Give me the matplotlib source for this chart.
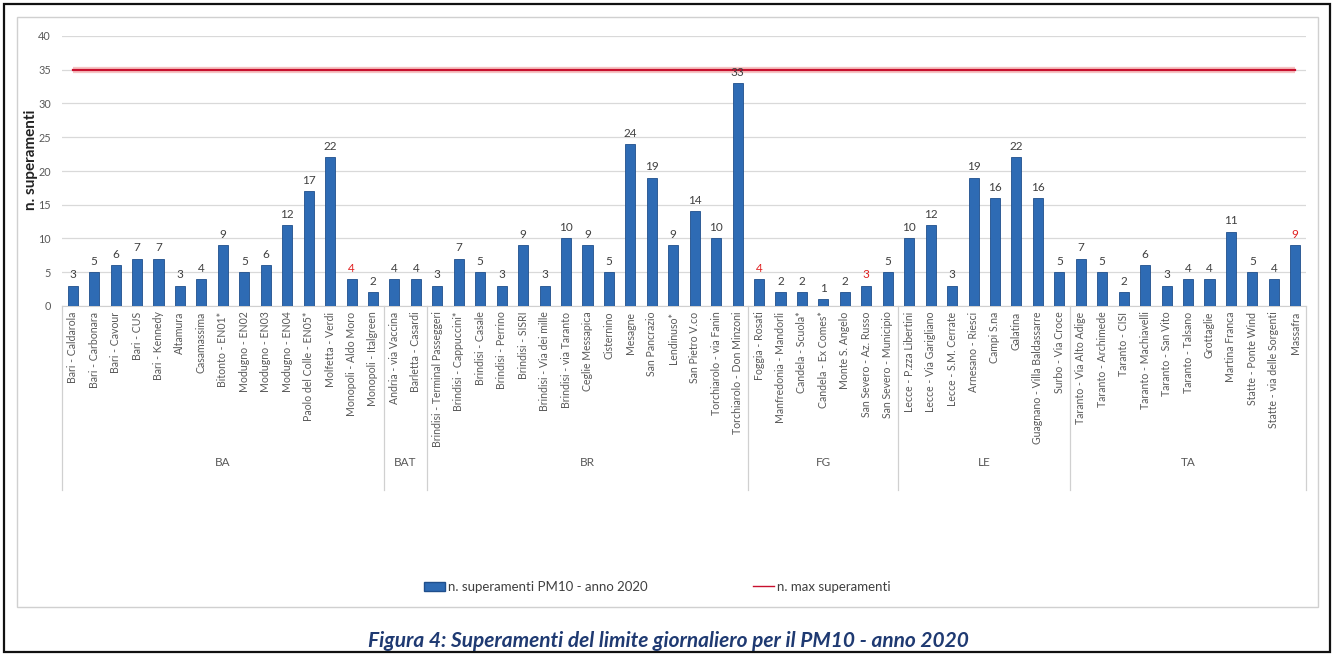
import matplotlib
matplotlib.use("Agg")
import matplotlib.pyplot as plt
from matplotlib.patches import Rectangle, Patch
from matplotlib.lines import Line2D
import matplotlib.transforms as mtrans

groups = ["BA", "BAT", "BR", "FG", "LE", "TA"]
group_sizes = [15, 2, 15, 7, 8, 11]
stations = [
    "Bari - Caldarola", "Bari - Carbonara", "Bari - Cavour", "Bari - CUS", "Bari - Kennedy",
    "Altamura", "Casamassima", "Bitonto - EN01*", "Modugno - EN02", "Modugno - EN03",
    "Modugno - EN04", "Paolo del Colle - EN05*", "Molfetta - Verdi", "Monopoli - Aldo Moro",
    "Monopoli - Italgreen",
    "Andria - via Vaccina", "Barletta - Casardi",
    "Brindisi - Terminal Passeggeri", "Brindisi - Cappuccini*", "Brindisi - Casale",
    "Brindisi - Perrino", "Brindisi - SISRI", "Brindisi - Via dei mille", "Brindisi - via Taranto",
    "Ceglie Messapica", "Cisternino", "Mesagne", "San Pancrazio", "Lendinuso*", "San Pietro V.co",
    "Torchiarolo - via Fanin", "Torchiarolo - Don Minzoni",
    "Foggia - Rosati", "Manfredonia - Mandorli", "Candela - Scuola*", "Candela - Ex Comes*",
    "Monte S. Angelo", "San Severo - Az. Russo", "San Severo - Municipio",
    "Lecce - P.zza Libertini", "Lecce - Via Garigliano", "Lecce - S.M. Cerrate", "Arnesano - Riesci",
    "Campi S.na", "Galatina", "Guagnano - Villa Baldassarre", "Surbo - Via Croce",
    "Taranto - Via Alto Adige", "Taranto - Archimede", "Taranto - CISI", "Taranto - Machiavelli",
    "Taranto - San Vito", "Taranto - Talsano", "Grottaglie", "Martina Franca",
    "Statte - Ponte Wind", "Statte - via delle Sorgenti", "Massafra",
]
exceedances = [
    3, 5, 6, 7, 7, 3, 4, 9, 5, 6, 12, 17, 22, 4, 2,
    4, 4,
    3, 7, 5, 3, 9, 3, 10, 9, 5, 24, 19, 9, 14, 10, 33,
    4, 2, 2, 1, 2, 3, 5,
    10, 12, 3, 19, 16, 22, 16, 5,
    7, 5, 2, 6, 3, 4, 4, 11, 5, 4, 9,
]
red_label_stations = ["Monopoli - Aldo Moro", "Foggia - Rosati", "San Severo - Az. Russo", "Massafra"]
max_exceedances = 35
series_label = "n. superamenti PM10 - anno 2020"
line_label = "n. max superamenti"
title = "Figura 4: Superamenti del limite giornaliero per il PM10 - anno 2020"

W, H = 1336, 659
fig = plt.figure(figsize=(W / 100, H / 100), dpi=100)
plt.rcParams['font.family'] = ['Lato', 'DejaVu Sans']

# outer frame and inner chart-area frame
fig.patches.append(Rectangle((4 / W, 1 - 652 / H), 1326 / W, 648 / H, transform=fig.transFigure,
                             fill=False, edgecolor="#111111", linewidth=1.6))
fig.patches.append(Rectangle((17 / W, 1 - 607 / H), 1301 / W, 590 / H, transform=fig.transFigure,
                             fill=False, edgecolor="#d0d0d0", linewidth=1.0))

x0, x1 = 62, 1306
y0, y1 = 306, 36
ax = fig.add_axes([x0 / W, 1 - y0 / H, (x1 - x0) / W, (y0 - y1) / H])

n = len(stations)
xs = list(range(n))
ax.bar(xs, exceedances, width=0.47, color="#2e6bb4", edgecolor="#1f4f8c", linewidth=0.6, zorder=3)
# glow + red line
ax.plot(xs, [max_exceedances] * n, color="#f6c4c4", linewidth=4.5, zorder=3, solid_capstyle="butt")
ax.plot(xs, [max_exceedances] * n, color="#c8102e", linewidth=1.6, zorder=4)

for x, v, s in zip(xs, exceedances, stations):
    ax.text(x, v + 0.8, str(v), ha="center", va="bottom", fontsize=8.5,
            color="#e02020" if s in red_label_stations else "#404040", zorder=5)

ax.set_xlim(-0.5, n - 0.5)
ax.set_ylim(0, 40)
ax.set_yticks(range(0, 41, 5))
ax.tick_params(axis="y", length=0, labelsize=7.8, labelcolor="#595959", pad=8)
ax.yaxis.grid(True, color="#d9d9d9", linewidth=0.9, zorder=0)
for sp in ["top", "right", "left"]:
    ax.spines[sp].set_visible(False)
ax.spines["bottom"].set_color("#d0d0d0")

ax.set_xticks(xs)
ax.set_xticklabels(stations, rotation=90, fontsize=7.6, color="#595959")
ax.tick_params(axis="x", length=0, pad=4)

ax.set_ylabel("n. superamenti", fontsize=11, fontweight="bold", color="#222222")
ax.yaxis.set_label_coords(-0.019, 0.54)

# group separators and labels
trans = mtrans.blended_transform_factory(ax.transData, ax.transAxes)
ybot = -(490 - 306) / (y0 - y1)
ylab = -(463 - 306) / (y0 - y1)
start = 0
bounds = [-0.5]
for g, sz in zip(groups, group_sizes):
    end = start + sz
    bounds.append(end - 0.5)
    ax.text((start + end - 1) / 2, ylab, g, transform=trans, ha="center", va="center",
            fontsize=8.5, color="#595959")
    start = end
for b in bounds:
    ax.plot([b, b], [0, ybot], transform=trans, color="#d0d0d0", linewidth=0.9, clip_on=False)

handles = [Patch(facecolor="#2e6bb4", edgecolor="#1f4f8c"),
           Line2D([0], [0], color="#c8102e", linewidth=1)]
fig.legend(handles, [series_label, line_label], loc="center", bbox_to_anchor=(0.492, 1 - 587 / H),
           ncol=2, frameon=False, fontsize=9.5, columnspacing=8, handlelength=1.6,
           handletextpad=0.2, labelcolor="#404040")

fig.text(0.5, 1 - 641 / H, title, ha="center", va="center", fontsize=15, fontweight="bold",
         fontstyle="italic", color="#1f3a72")

fig.savefig("out.png", dpi=100)
